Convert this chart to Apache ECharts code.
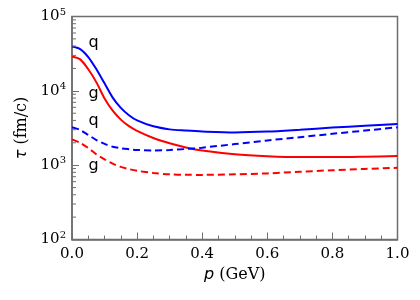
<!DOCTYPE html>
<html><head><meta charset="utf-8">
<script src="https://cdn.jsdelivr.net/npm/echarts@6/dist/echarts.min.js"></script>
<style>html,body{margin:0;padding:0;background:#fff}#c{width:420px;height:300px}</style>
</head><body><div id="c"></div>
<script>
var P = [0,0.025,0.05,0.075,0.1,0.125,0.15,0.175,0.2,0.25,0.3,0.35,0.4,0.5,0.6,0.7,0.8,0.9,1.0];
var qSolid = [39500,36500,28500,19500,12600,8100,5900,4700,4000,3330,3030,2920,2840,2760,2830,3000,3200,3380,3570];
var gSolid = [29000,26500,19500,13000,7900,5400,4100,3350,2900,2320,1970,1730,1570,1400,1320,1285,1285,1300,1325];
var qDash  = [3240,2980,2550,2180,1930,1770,1690,1640,1600,1580,1600,1650,1720,1920,2150,2380,2640,2920,3230];
var gDash  = [2220,2000,1700,1400,1200,1050,950,885,840,785,752,742,740,752,775,815,855,890,923];
var xTicks = [0,0.2,0.4,0.6,0.8,1.0];
var minorY = [200,300,400,500,600,700,800,900,2000,3000,4000,5000,6000,7000,8000,9000,20000,30000,40000,50000,60000,70000,80000,90000];
var annText = ['q','g','q','g'];
var annP = [0.066,0.066,0.066,0.066];
var annV = [44000,9000,3900,980];

function pairs(ys){return P.map(function(p,i){return [p,ys[i]];});}
var AX = '#6e6e6e';
var chart = echarts.init(document.getElementById('c'), null, {renderer:'canvas'});
var serif = 'DejaVu Serif';
var opt = {
  animation:false,
  grid:{left:72,right:22.5,top:16.5,bottom:60.5,show:true,borderColor:AX,borderWidth:1.5,backgroundColor:'transparent'},
  xAxis:{type:'value',min:0,max:1,interval:0.2,
    name:'{i|p} (GeV)',nameLocation:'middle',nameGap:24,
    nameTextStyle:{fontFamily:serif,fontSize:16,color:'#000',rich:{i:{fontFamily:'DejaVu Sans',fontStyle:'italic',fontSize:16,color:'#000'}}},
    axisLine:{show:true,lineStyle:{color:AX,width:1.5}},
    axisTick:{show:true,inside:true,length:7,lineStyle:{color:AX,width:1}},
    minorTick:{show:true,splitNumber:4,length:4,lineStyle:{color:AX,width:1}},
    splitLine:{show:false},
    axisLabel:{fontFamily:serif,fontSize:15,color:'#000',margin:7,formatter:function(v){return v.toFixed(1);}}
  },
  yAxis:{type:'log',logBase:10,min:100,max:100000,
    name:'{i|τ} (fm/c)',nameLocation:'middle',nameGap:42,nameRotate:90,
    nameTextStyle:{fontFamily:serif,fontSize:16,color:'#000',rich:{i:{fontFamily:'DejaVu Sans',fontStyle:'italic',fontSize:16,color:'#000'}}},
    axisLine:{show:true,lineStyle:{color:AX,width:1.5}},
    axisTick:{show:true,inside:true,length:7,lineStyle:{color:AX,width:1}},
    splitLine:{show:false},
    axisLabel:{fontFamily:serif,fontSize:15,color:'#000',margin:6,
      formatter:function(v){var e=Math.round(Math.log10(v));return '{b|10}{s|'+e+'}';},
      rich:{b:{fontFamily:serif,fontSize:15,color:'#000'},s:{fontFamily:serif,fontSize:10,color:'#000',padding:[0,0,9,0]}}}
  },
  series:[
    {type:'line',data:pairs(qSolid),smooth:0.3,showSymbol:false,lineStyle:{color:'#0000ff',width:2},z:3},
    {type:'line',data:pairs(gSolid),smooth:0.3,showSymbol:false,lineStyle:{color:'#ff0000',width:2},z:3},
    {type:'line',data:pairs(qDash),smooth:0.3,showSymbol:false,lineStyle:{color:'#0000ff',width:2,type:[7,4]},z:3},
    {type:'line',data:pairs(gDash),smooth:0.3,showSymbol:false,lineStyle:{color:'#ff0000',width:2,type:[7,4]},z:3},
    {type:'custom',clip:false,silent:true,z:4,data:minorY.map(function(v){return [0,v];}),
      renderItem:function(params,api){var pt=api.coord([0,api.value(1)]);
        return {type:'line',shape:{x1:pt[0],y1:pt[1],x2:pt[0]+4,y2:pt[1]},style:{stroke:AX,lineWidth:1}};}},
    {type:'custom',clip:false,silent:true,z:5,data:annText.map(function(t,i){return [annP[i],annV[i],i];}),
      renderItem:function(params,api){var pt=api.coord([api.value(0),api.value(1)]);var i=api.value(2);
        return {type:'text',x:pt[0],y:pt[1],style:{text:annText[i],fontFamily:'DejaVu Sans',fontSize:16,fill:'#000',align:'center',verticalAlign:'middle'}};}}
  ]
};
chart.setOption(opt);
</script></body></html>
